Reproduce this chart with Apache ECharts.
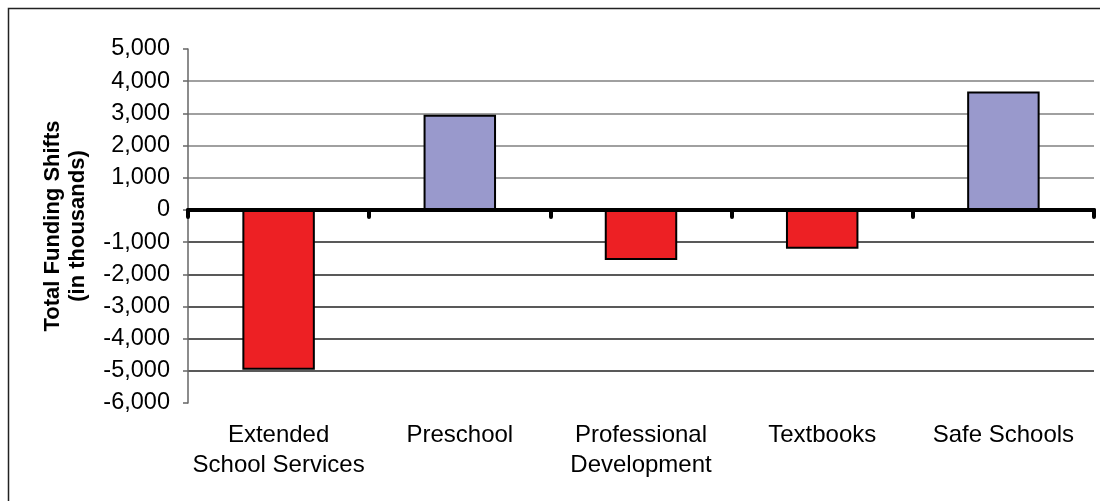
<!DOCTYPE html>
<html>
<head>
<meta charset="utf-8">
<script src="https://cdn.jsdelivr.net/npm/echarts@6/dist/echarts.min.js"></script>
<style>html,body{margin:0;padding:0;background:#fff;}#c{width:1100px;height:501px;}</style>
</head>
<body>
<div id="c"></div>
<script>
var categories = ['Extended\nSchool Services', 'Preschool', 'Professional\nDevelopment', 'Textbooks', 'Safe Schools'];
var values = [-4970, 2960, -1560, -1210, 3680];
var axisTitle = 'Total Funding Shifts\n(in thousands)';

var chart = echarts.init(document.getElementById('c'));
var font = '"Liberation Sans", Arial, sans-serif';
chart.setOption({
  animation: false,
  backgroundColor: '#fff',
  graphic: [{
    type: 'rect', silent: true, z: -1,
    shape: { x: 8.5, y: 8.5, width: 1200, height: 600 },
    style: { fill: 'none', stroke: '#222', lineWidth: 1.5 }
  }],
  grid: { left: 188, right: 6, top: 49, bottom: 98, containLabel: false },
  xAxis: [{
    type: 'category', data: categories, z: 3,
    axisLine: { onZero: true, lineStyle: { color: '#000', width: 4 } },
    axisTick: { show: true, length: 7, lineStyle: { color: '#000', width: 4, cap: 'round' } },
    axisLabel: { show: false },
    splitLine: { show: false }
  }, {
    type: 'category', data: categories, position: 'bottom',
    axisLine: { show: false, onZero: false },
    axisTick: { show: false },
    axisLabel: { show: true, interval: 0, margin: 17, fontFamily: font, fontSize: 24, lineHeight: 30, color: '#000' },
    splitLine: { show: false }
  }],
  yAxis: {
    type: 'value', min: -6000, max: 5000, interval: 1000,
    name: axisTitle, nameLocation: 'middle', nameGap: 98, nameRotate: 90,
    nameTextStyle: { fontFamily: font, fontSize: 22, fontWeight: 'bold', lineHeight: 25, color: '#000' },
    axisLine: { show: true, lineStyle: { color: '#666', width: 1.5 } },
    axisTick: { show: true, length: 5, lineStyle: { color: '#666', width: 1.5 } },
    axisLabel: {
      margin: 18, fontFamily: font, fontSize: 23.5, color: '#000',
      formatter: function (v) { return v.toLocaleString('en-US'); }
    },
    splitLine: {
      show: true, showMinLine: false, showMaxLine: false,
      lineStyle: { color: ['#222', '#222', '#222', '#222', '#222', '#000', '#808080', '#808080', '#808080', '#808080'], width: 1.5 }
    }
  },
  series: [{
    type: 'bar', xAxisIndex: 0, data: values, barWidth: '40%',
    itemStyle: {
      color: function (p) { return p.value < 0 ? '#ED2024' : '#9999CC'; },
      borderColor: '#000', borderWidth: 2
    }
  }]
});
</script>
</body>
</html>
